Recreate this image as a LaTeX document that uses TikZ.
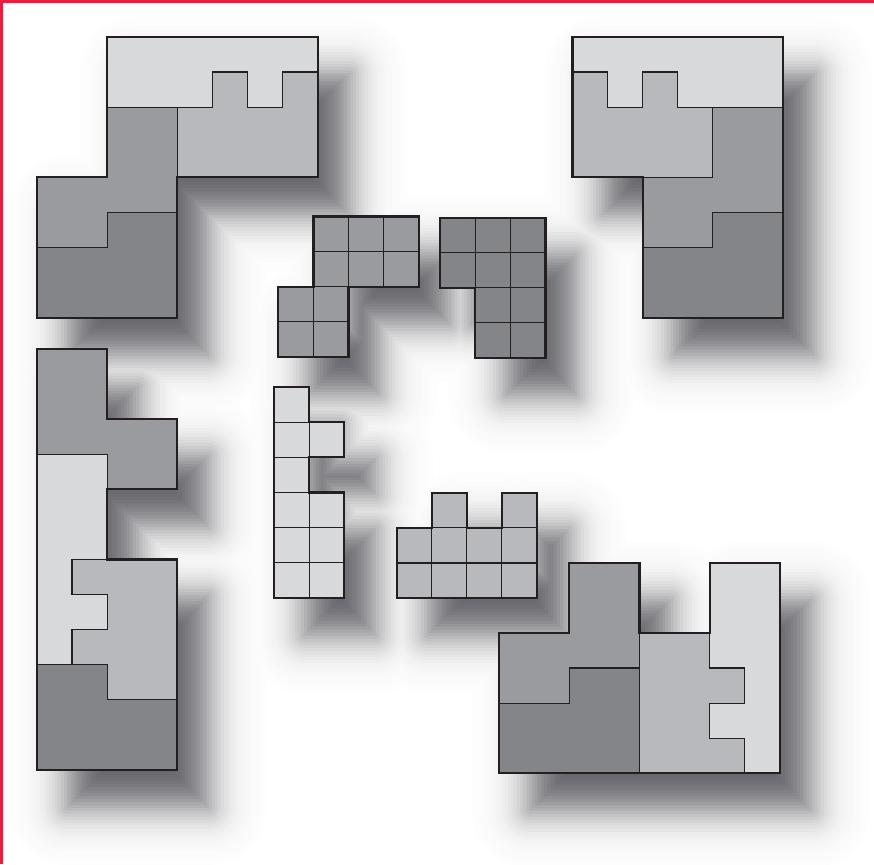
\documentclass[tikz,border=0pt]{standalone}
\usepackage{tikz}

\definecolor{tone1}{RGB}{216,217,219}
\definecolor{tone2}{RGB}{184,185,188}
\definecolor{tone3}{RGB}{154,155,159}
\definecolor{tone4}{RGB}{132,133,137}
\definecolor{edge}{RGB}{35,31,32}
\definecolor{frame}{RGB}{235,28,60}
\definecolor{ink}{RGB}{10,10,20}

% outlines of the eight pieces, in cells
\newcommand\outA{(2,0) -- (8,0) -- (8,4) -- (4,4) -- (4,8) -- (0,8) -- (0,4) -- (2,4) -- cycle}
\newcommand\outB{(0,0) -- (6,0) -- (6,8) -- (2,8) -- (2,4) -- (0,4) -- cycle}
\newcommand\outC{(0,0) -- (2,0) -- (2,2) -- (4,2) -- (4,4) -- (2,4) -- (2,6) -- (4,6) -- (4,12) -- (0,12) -- cycle}
\newcommand\outD{(0,2) -- (2,2) -- (2,0) -- (4,0) -- (4,2) -- (6,2) -- (6,0) -- (8,0) -- (8,6) -- (0,6) -- cycle}
\newcommand\outE{(1,0) -- (4,0) -- (4,2) -- (2,2) -- (2,4) -- (0,4) -- (0,2) -- (1,2) -- cycle}
\newcommand\outF{(0,0) -- (3,0) -- (3,4) -- (1,4) -- (1,2) -- (0,2) -- cycle}
\newcommand\outG{(0,0) -- (1,0) -- (1,1) -- (2,1) -- (2,2) -- (1,2) -- (1,3) -- (2,3) -- (2,6) -- (0,6) -- cycle}
\newcommand\outH{(1,0) -- (2,0) -- (2,1) -- (3,1) -- (3,0) -- (4,0) -- (4,3) -- (0,3) -- (0,1) -- (1,1) -- cycle}

\tikzset{
  rim/.style={draw=edge, line width=1.8pt},
  seam/.style={draw=edge, line width=0.9pt},
  haze/.style={line join=round, draw=ink!#1, fill=ink!#1},
  % big pieces, four shades each
  pieceA/.pic={
    \filldraw[seam, fill=tone1] (2,0) -- (8,0) -- (8,1) -- (7,1) -- (7,2) -- (6,2) -- (6,1) -- (5,1) -- (5,2) -- (2,2) -- cycle;
    \filldraw[seam, fill=tone2] (4,2) -- (5,2) -- (5,1) -- (6,1) -- (6,2) -- (7,2) -- (7,1) -- (8,1) -- (8,4) -- (4,4) -- cycle;
    \filldraw[seam, fill=tone3] (2,2) -- (4,2) -- (4,5) -- (2,5) -- (2,6) -- (0,6) -- (0,4) -- (2,4) -- cycle;
    \filldraw[seam, fill=tone4] (2,5) -- (4,5) -- (4,8) -- (0,8) -- (0,6) -- (2,6) -- cycle;
    \draw[rim] \outA;
  },
  pieceB/.pic={
    \filldraw[seam, fill=tone1] (0,0) -- (6,0) -- (6,2) -- (3,2) -- (3,1) -- (2,1) -- (2,2) -- (1,2) -- (1,1) -- (0,1) -- cycle;
    \filldraw[seam, fill=tone2] (0,1) -- (1,1) -- (1,2) -- (2,2) -- (2,1) -- (3,1) -- (3,2) -- (4,2) -- (4,4) -- (0,4) -- cycle;
    \filldraw[seam, fill=tone3] (4,2) -- (6,2) -- (6,5) -- (4,5) -- (4,6) -- (2,6) -- (2,4) -- (4,4) -- cycle;
    \filldraw[seam, fill=tone4] (4,5) -- (6,5) -- (6,8) -- (2,8) -- (2,6) -- (4,6) -- cycle;
    \draw[rim] \outB;
  },
  pieceC/.pic={
    \filldraw[seam, fill=tone3] (0,0) -- (2,0) -- (2,2) -- (4,2) -- (4,4) -- (2,4) -- (2,3) -- (0,3) -- cycle;
    \filldraw[seam, fill=tone1] (0,3) -- (2,3) -- (2,6) -- (1,6) -- (1,7) -- (2,7) -- (2,8) -- (1,8) -- (1,9) -- (0,9) -- cycle;
    \filldraw[seam, fill=tone2] (1,6) -- (4,6) -- (4,10) -- (2,10) -- (2,9) -- (1,9) -- (1,8) -- (2,8) -- (2,7) -- (1,7) -- cycle;
    \filldraw[seam, fill=tone4] (0,9) -- (2,9) -- (2,10) -- (4,10) -- (4,12) -- (0,12) -- cycle;
    \draw[rim] \outC;
  },
  pieceD/.pic={
    \filldraw[seam, fill=tone3] (2,0) -- (4,0) -- (4,3) -- (2,3) -- (2,4) -- (0,4) -- (0,2) -- (2,2) -- cycle;
    \filldraw[seam, fill=tone4] (2,3) -- (4,3) -- (4,6) -- (0,6) -- (0,4) -- (2,4) -- cycle;
    \filldraw[seam, fill=tone2] (4,2) -- (6,2) -- (6,3) -- (7,3) -- (7,4) -- (6,4) -- (6,5) -- (7,5) -- (7,6) -- (4,6) -- cycle;
    \filldraw[seam, fill=tone1] (6,0) -- (8,0) -- (8,6) -- (7,6) -- (7,5) -- (6,5) -- (6,4) -- (7,4) -- (7,3) -- (6,3) -- cycle;
    \draw[rim] \outD;
  },
  % small pieces, one shade, cell by cell
  pieceE/.pic={
    \foreach \x/\y in {1/0,2/0,3/0,1/1,2/1,3/1,0/2,1/2,0/3,1/3}
      \filldraw[seam, fill=tone3] (\x,\y) rectangle ++(1,1);
    \draw[rim] \outE;
  },
  pieceF/.pic={
    \foreach \x/\y in {0/0,1/0,2/0,0/1,1/1,2/1,1/2,2/2,1/3,2/3}
      \filldraw[seam, fill=tone4] (\x,\y) rectangle ++(1,1);
    \draw[rim] \outF;
  },
  pieceG/.pic={
    \foreach \x/\y in {0/0,0/1,1/1,0/2,0/3,1/3,0/4,1/4,0/5,1/5}
      \filldraw[seam, fill=tone1] (\x,\y) rectangle ++(1,1);
    \draw[rim] \outG;
  },
  pieceH/.pic={
    \foreach \x/\y in {1/0,3/0,0/1,1/1,2/1,3/1,0/2,1/2,2/2,3/2}
      \filldraw[seam, fill=tone2] (\x,\y) rectangle ++(1,1);
    \draw[rim] \outH;
  },
}

\begin{document}
\begin{tikzpicture}[x=1cm, y=-1cm]
  \useasboundingbox (0,0) rectangle (24.9,24.62);
  \clip (0,0) rectangle (24.9,24.62);
  \fill[white] (0,0) rectangle (24.9,24.62);
  % soft shadows, light to dark (distances in px): grown outlines first ...
  \foreach \d in {58,55,...,1} {
    \pgfmathsetmacro\p{66/(1+exp(1.702*\d/22))}
    \pgfmathsetmacro\w{2*\d/35.1}
    \foreach \o/\x/\y in {\outA/1.05/1.05,\outB/16.31/1.05,\outC/1.05/9.94,
                          \outD/14.22/16.03,\outE/7.93/6.17,\outF/12.54/6.2,
                          \outG/7.81/11.03,\outH/11.3/14.04}
      \filldraw[haze=\p, line width=\w cm, shift={(\x+0.88,\y+1.05)}] \o;
  }
  % ... then shrunk outlines (cut out by shifted clips)
  \foreach \e in {2,5,...,56} {
    \pgfmathsetmacro\p{66/(1+exp(-1.702*\e/22))}
    \pgfmathsetmacro\r{\e/35.1}
    \foreach \o/\x/\y in {\outA/1.05/1.05,\outB/16.31/1.05,\outC/1.05/9.94,
                          \outD/14.22/16.03,\outE/7.93/6.17,\outF/12.54/6.2,
                          \outG/7.81/11.03,\outH/11.3/14.04} {
      \begin{scope}
        \foreach \sx/\sy in {-1/-1,-1/0,-1/1,0/-1,0/1,1/-1,1/0,1/1}
          \clip[shift={(\x+0.88+\sx*\r,\y+1.05+\sy*\r)}] \o;
        \fill[ink!\p, shift={(\x+0.88,\y+1.05)}] \o;
      \end{scope}
    }
  }
  % the pieces
  \pic at (1.05,1.05) {pieceA};
  \pic at (16.31,1.05) {pieceB};
  \pic at (1.05,9.94) {pieceC};
  \pic at (14.22,16.03) {pieceD};
  \pic at (7.93,6.17) {pieceE};
  \pic at (12.54,6.2) {pieceF};
  \pic at (7.81,11.03) {pieceG};
  \pic at (11.3,14.04) {pieceH};
  % red page edge
  \fill[frame] (0,0) rectangle (0.08,24.62);
  \fill[frame] (0,0) rectangle (24.9,0.09);
\end{tikzpicture}
\end{document}
